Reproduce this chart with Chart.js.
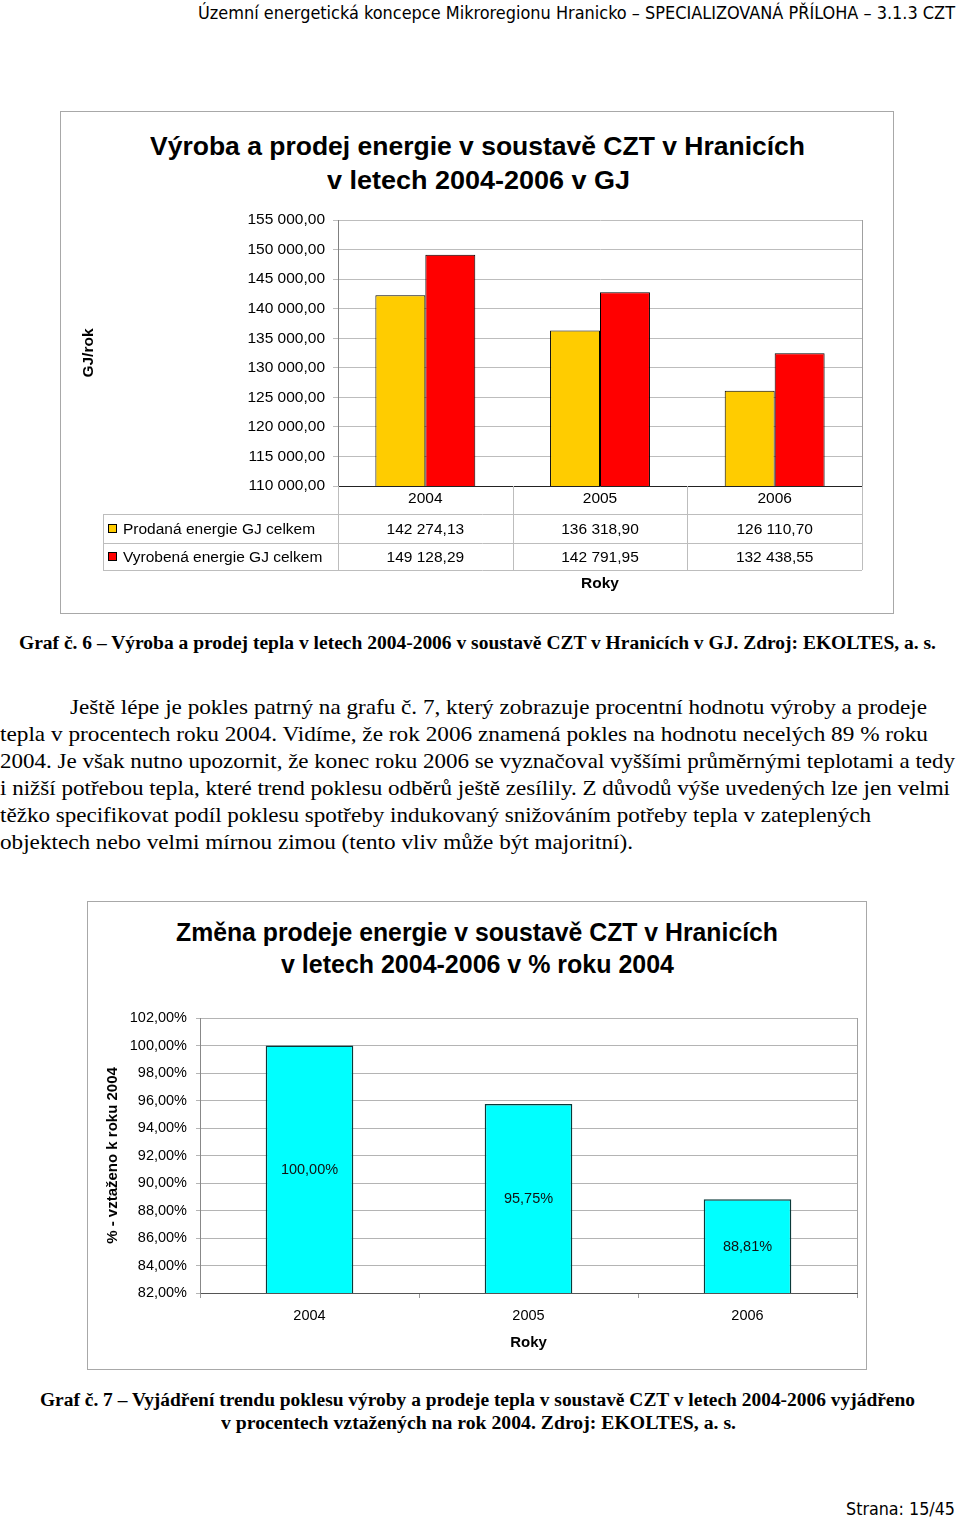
<!DOCTYPE html>
<html><head><meta charset="utf-8">
<script src="https://cdn.jsdelivr.net/npm/chart.js@4.4.0/dist/chart.umd.min.js"></script>
<style>
html,body{margin:0;padding:0;background:#fff;}
body{width:960px;height:1521px;position:relative;overflow:hidden;color:#000;}
.t{position:absolute;white-space:nowrap;line-height:1;transform-origin:0 50%;}
.hd{font-family:"DejaVu Sans Condensed","DejaVu Sans",sans-serif;font-size:17px;}
.ct{font-family:"Liberation Sans",Arial,sans-serif;font-weight:bold;}
.sf{font-family:"Liberation Serif","Times New Roman",serif;}
.cap{font-family:"Liberation Serif","Times New Roman",serif;font-weight:bold;font-size:18px;}
.box{position:absolute;border:1px solid #a8a8a8;box-sizing:border-box;}
canvas{position:absolute;}
</style></head>
<body>
<div class="t hd" style="left:198px;top:5px" data-w="757">Územní energetická koncepce Mikroregionu Hranicko – SPECIALIZOVANÁ PŘÍLOHA – 3.1.3 CZT</div>

<div class="box" style="left:60px;top:111px;width:834px;height:503px"></div>
<div class="t ct" style="left:150px;top:133px;font-size:26px" data-w="655">Výroba a prodej energie v soustavě CZT v Hranicích</div>
<div class="t ct" style="left:327px;top:167px;font-size:26px" data-w="303">v letech 2004-2006 v GJ</div>
<canvas id="c1" width="834" height="503" style="left:60px;top:111px;width:834px;height:503px"></canvas>

<div class="t cap" style="left:19px;top:634px" data-w="917">Graf č. 6 – Výroba a prodej tepla v letech 2004-2006 v soustavě CZT v Hranicích v GJ. Zdroj: EKOLTES, a. s.</div>

<div class="t sf" style="left:70px;top:697px;font-size:21px" data-w="857">Ještě lépe je pokles patrný na grafu č. 7, který zobrazuje procentní hodnotu výroby a prodeje</div>
<div class="t sf" style="left:0px;top:724px;font-size:21px" data-w="928">tepla v procentech roku 2004. Vidíme, že rok 2006 znamená pokles na hodnotu necelých 89 % roku</div>
<div class="t sf" style="left:0px;top:751px;font-size:21px" data-w="955">2004. Je však nutno upozornit, že konec roku 2006 se vyznačoval vyššími průměrnými teplotami a tedy</div>
<div class="t sf" style="left:0px;top:778px;font-size:21px" data-w="950">i nižší potřebou tepla, které trend poklesu odběrů ještě zesílily. Z důvodů výše uvedených lze jen velmi</div>
<div class="t sf" style="left:0px;top:805px;font-size:21px" data-w="871">těžko specifikovat podíl poklesu spotřeby indukovaný snižováním potřeby tepla v zateplených</div>
<div class="t sf" style="left:0px;top:832px;font-size:21px" data-w="633">objektech nebo velmi mírnou zimou (tento vliv může být majoritní).</div>

<div class="box" style="left:87px;top:901px;width:780px;height:469px"></div>
<div class="t ct" style="left:176px;top:920px;font-size:25px" data-w="602">Změna prodeje energie v soustavě CZT v Hranicích</div>
<div class="t ct" style="left:281px;top:952px;font-size:25px" data-w="393">v letech 2004-2006 v % roku 2004</div>
<canvas id="c2" width="780" height="469" style="left:87px;top:901px;width:780px;height:469px"></canvas>

<div class="t cap" style="left:40px;top:1391px" data-w="875">Graf č. 7 – Vyjádření trendu poklesu výroby a prodeje tepla v soustavě CZT v letech 2004-2006 vyjádřeno</div>
<div class="t cap" style="left:221px;top:1414px" data-w="515">v procentech vztažených na rok 2004. Zdroj: EKOLTES, a. s.</div>

<div class="t hd" style="left:846px;top:1501px" data-w="109">Strana: 15/45</div>

<script>
// ---- data ----
const years = ['2004', '2005', '2006'];
const soldGJ = [142274.13, 136318.90, 126110.70];
const producedGJ = [149128.29, 142791.95, 132438.55];
const seriesNames = ['Prodaná energie GJ celkem', 'Vyrobená energie GJ celkem'];
const gjTicks = [110000, 115000, 120000, 125000, 130000, 135000, 140000, 145000, 150000, 155000];
const pctSales = [100.00, 95.75, 88.81];
const pctTicks = [82, 84, 86, 88, 90, 92, 94, 96, 98, 100, 102];

// ---- text fitting ----
document.querySelectorAll('[data-w]').forEach(el => {
  const w = el.getBoundingClientRect().width;
  el.style.transform = 'scaleX(' + (+el.dataset.w / w) + ')';
});

const F = '"Liberation Sans", Arial, sans-serif';
function czNum(v) {
  const s = v.toFixed(2).split('.');
  return s[0].replace(/\B(?=(\d{3})+(?!\d))/g, ' ') + ',' + s[1];
}
function czPct(v) { return v.toFixed(2).replace('.', ',') + '%'; }

// ---- chart 1 ----
const tablePlugin = {
  id: 'tbl',
  afterDraw(ch) {
    const ctx = ch.ctx, a = ch.chartArea, xs = ch.scales.x;
    const step = xs.getPixelForValue(1) - xs.getPixelForValue(0);
    const bounds = years.map((_, i) => xs.getPixelForValue(i) - step / 2);
    bounds.push(xs.getPixelForValue(years.length - 1) + step / 2);
    ctx.save();
    ctx.lineWidth = 1;
    ctx.strokeStyle = '#a0a0a0';
    ctx.beginPath(); ctx.moveTo(Math.round(a.right) + 0.5, a.top); ctx.lineTo(Math.round(a.right) + 0.5, a.bottom); ctx.stroke();
    const r0 = a.bottom, r1 = a.bottom + 28, r2 = a.bottom + 57, r3 = a.bottom + 84, lx = 43;
    ctx.strokeStyle = '#bdbdbd';
    ctx.beginPath();
    [r1, r2, r3].forEach(y => { ctx.moveTo(lx, Math.round(y) + 0.5); ctx.lineTo(a.right, Math.round(y) + 0.5); });
    bounds.forEach(x => { ctx.moveTo(Math.round(x) + 0.5, r0); ctx.lineTo(Math.round(x) + 0.5, r3); });
    ctx.moveTo(lx + 0.5, r1); ctx.lineTo(lx + 0.5, r3);
    ctx.stroke();
    ctx.font = '15.5px ' + F;
    ctx.fillStyle = '#000';
    ctx.textBaseline = 'middle';
    const rows = [soldGJ, producedGJ];
    const colors = ['#FFCC00', '#FF0000'];
    rows.forEach((arr, k) => {
      const cy = k ? (r2 + r3) / 2 : (r1 + r2) / 2;
      ctx.textAlign = 'center';
      ctx.fillStyle = '#000';
      arr.forEach((v, i) => ctx.fillText(czNum(v), xs.getPixelForValue(i), cy + 1));
      ctx.fillStyle = colors[k];
      ctx.fillRect(48.5, Math.round(cy) - 4.5, 8, 8);
      ctx.strokeStyle = '#000';
      ctx.strokeRect(48.5, Math.round(cy) - 4.5, 8, 8);
      ctx.fillStyle = '#000';
      ctx.textAlign = 'left';
      ctx.fillText(seriesNames[k], 63, cy + 1);
    });
    ctx.restore();
  }
};

new Chart(document.getElementById('c1'), {
  type: 'bar',
  data: {
    labels: years,
    datasets: [
      { label: seriesNames[0], data: soldGJ, backgroundColor: '#FFCC00', borderColor: '#000', borderWidth: 1 },
      { label: seriesNames[1], data: producedGJ, backgroundColor: '#FF0000', borderColor: '#000', borderWidth: 1 }
    ]
  },
  options: {
    responsive: false, animation: false, devicePixelRatio: 1,
    layout: { padding: { left: 0, top: 109, right: 32, bottom: 0 } },
    plugins: { legend: { display: false }, tooltip: { enabled: false }, title: { display: false } },
    datasets: { bar: { categoryPercentage: 0.572, barPercentage: 1 } },
    scales: {
      x: {
        grid: { display: false, drawTicks: false },
        border: { color: '#222', width: 1 },
        ticks: { font: { size: 15.5, family: F }, color: '#000', padding: 3 },
        title: { display: true, text: 'Roky', color: '#000', font: { size: 15.5, family: F, weight: 'bold' }, padding: { top: 0, bottom: 21 } },
        afterFit: s => { s.height = 128; }
      },
      y: {
        min: gjTicks[0], max: gjTicks[gjTicks.length - 1],
        afterBuildTicks: s => { s.ticks = gjTicks.map(v => ({ value: v })); },
        ticks: { callback: v => czNum(v), font: { size: 15.5, family: F }, color: '#000', padding: 8 },
        grid: { color: '#bdbdbd', tickLength: 5 },
        border: { color: '#808080' },
        title: { display: true, text: 'GJ/rok', color: '#000', font: { size: 15.5, family: F, weight: 'bold' }, padding: { top: 19, bottom: 0 } },
        afterFit: s => { s.width = 278; }
      }
    }
  },
  plugins: [tablePlugin]
});

// ---- chart 2 ----
const labelPlugin = {
  id: 'pctlabels',
  afterDraw(ch) {
    const ctx = ch.ctx, a = ch.chartArea, xs = ch.scales.x, ys = ch.scales.y;
    ctx.save();
    ctx.strokeStyle = '#a0a0a0'; ctx.lineWidth = 1;
    ctx.beginPath(); ctx.moveTo(Math.round(a.right) + 0.5, a.top); ctx.lineTo(Math.round(a.right) + 0.5, a.bottom); ctx.stroke();
    ctx.font = '14.5px ' + F;
    ctx.fillStyle = '#111111';
    ctx.textAlign = 'center';
    ctx.textBaseline = 'middle';
    pctSales.forEach((v, i) => {
      const top = ys.getPixelForValue(v);
      const base = ys.getPixelForValue(ys.min);
      ctx.fillText(czPct(v), xs.getPixelForValue(i), (top + base) / 2 + 1);
    });
    ctx.restore();
  }
};

new Chart(document.getElementById('c2'), {
  type: 'bar',
  data: {
    labels: years,
    datasets: [{ data: pctSales, backgroundColor: '#00FFFF', borderColor: '#0b3a3a', borderWidth: 1.5 }]
  },
  options: {
    responsive: false, animation: false, devicePixelRatio: 1,
    layout: { padding: { left: 0, top: 117, right: 10, bottom: 0 } },
    plugins: { legend: { display: false }, tooltip: { enabled: false }, title: { display: false } },
    datasets: { bar: { categoryPercentage: 1, barPercentage: 0.4 } },
    scales: {
      x: {
        grid: { drawOnChartArea: false, color: '#999', tickLength: 5 },
        border: { color: '#555' },
        ticks: { font: { size: 14.5, family: F }, color: '#000', padding: 9 },
        title: { display: true, text: 'Roky', color: '#000', font: { size: 15, family: F, weight: 'bold' }, padding: { top: 0, bottom: 18 } },
        afterFit: s => { s.height = 77; }
      },
      y: {
        min: pctTicks[0], max: pctTicks[pctTicks.length - 1],
        afterBuildTicks: s => { s.ticks = pctTicks.map(v => ({ value: v })); },
        ticks: { callback: v => czPct(v), font: { size: 14.5, family: F }, color: '#000', padding: 9 },
        grid: { color: '#b4b4b4', tickLength: 4 },
        border: { color: '#888' },
        title: { display: true, text: '% - vztaženo k roku 2004', color: '#000', font: { size: 15, family: F, weight: 'bold' }, padding: { top: 17, bottom: 0 } },
        afterFit: s => { s.width = 113; }
      }
    }
  },
  plugins: [labelPlugin]
});
</script>
</body></html>
